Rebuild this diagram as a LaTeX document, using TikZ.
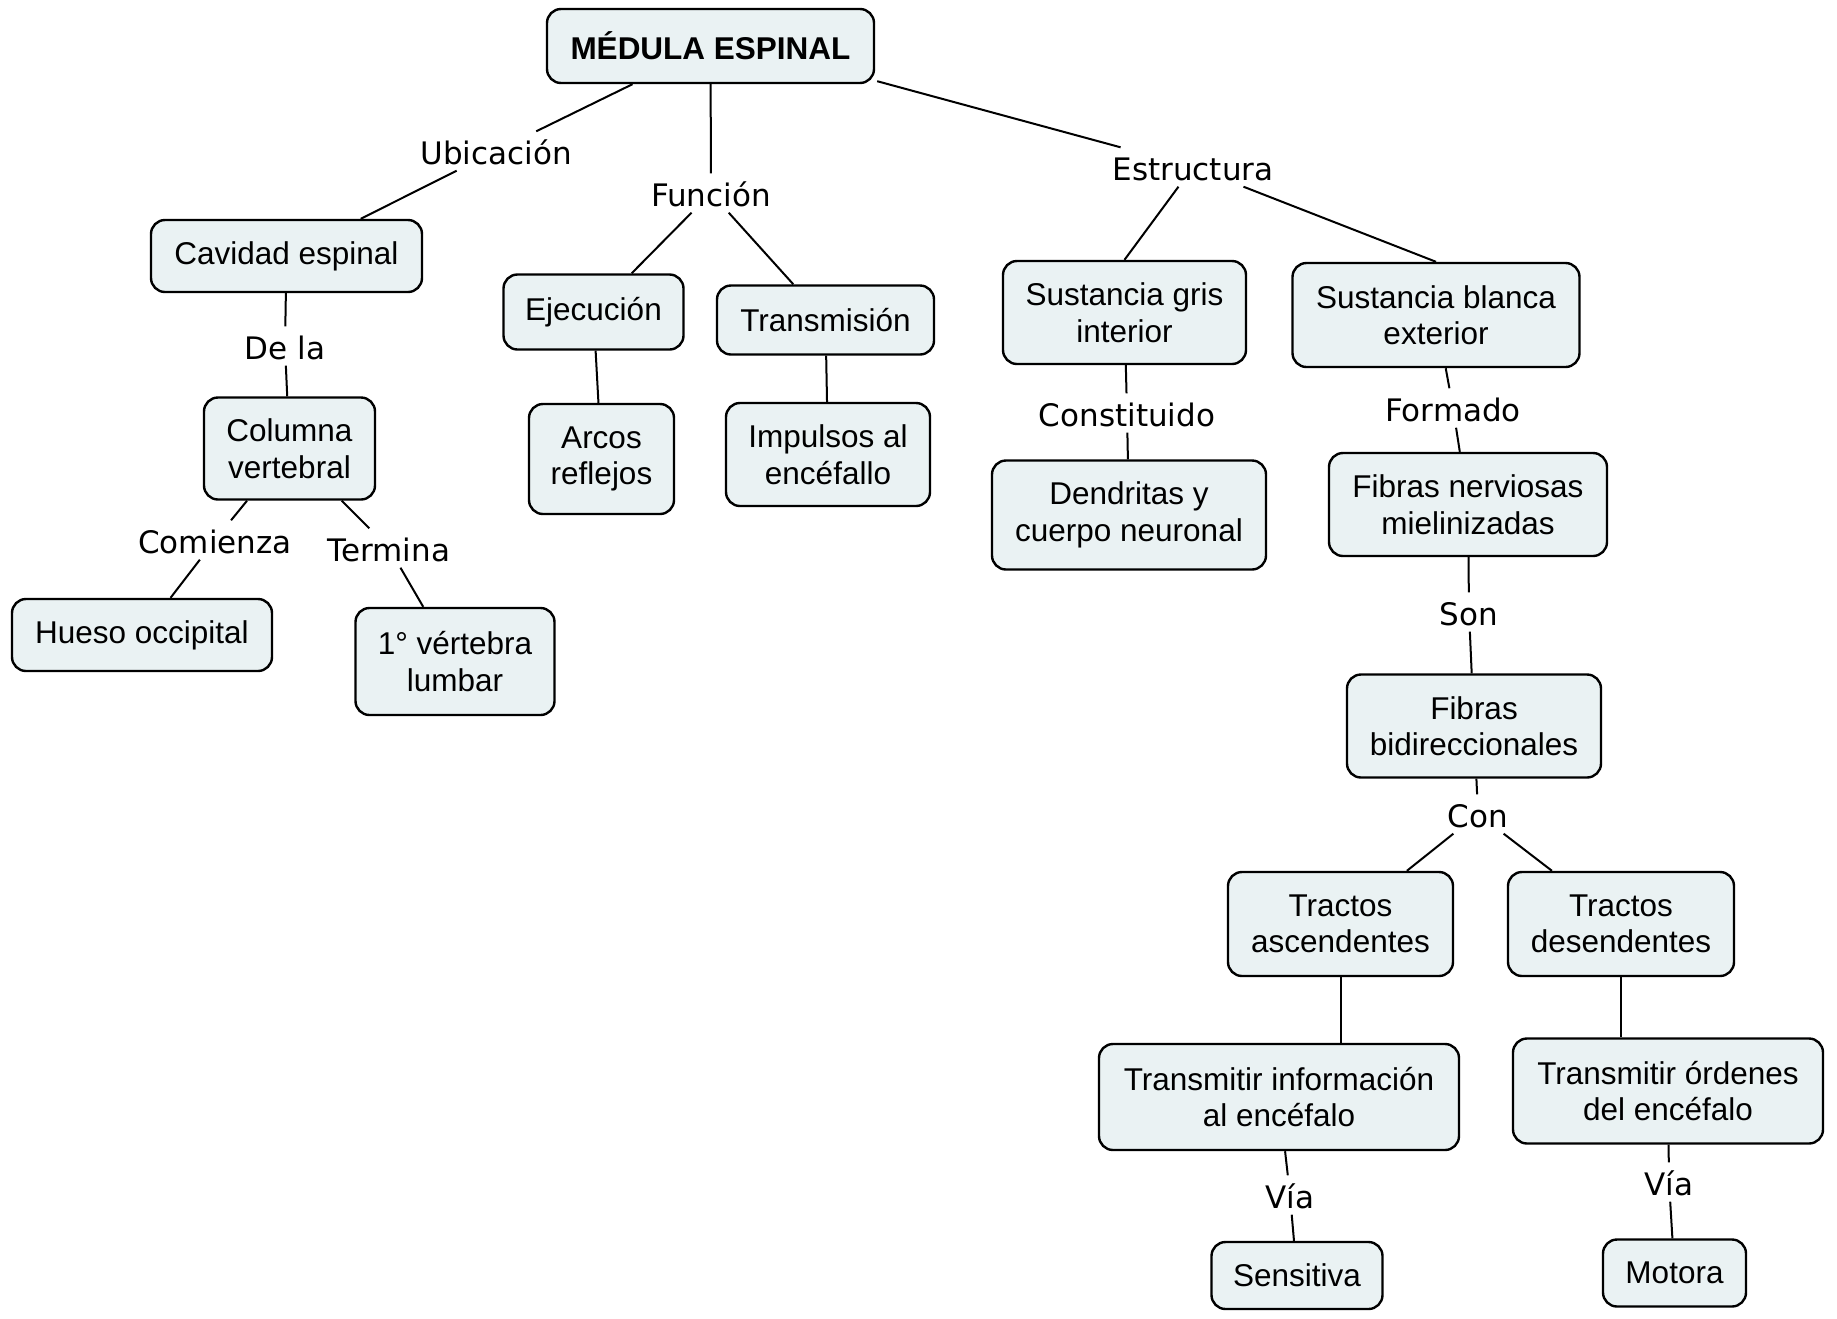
\documentclass[tikz,border=0pt]{standalone}
\usepackage{fontspec}
\setmainfont{Liberation Sans}
\newfontfamily\labelfont{DejaVu Sans}
\definecolor{boxfill}{RGB}{234,242,243}
\begin{document}
\begin{tikzpicture}[x=1pt,y=-1pt,
  concept/.style={draw=black, line width=2.4pt, fill=boxfill, rounded corners=14pt,
    inner sep=0pt, align=center, font=\fontsize{31.5}{36.5}\selectfont},
  lnk/.style={inner xsep=3pt, inner ysep=0pt, text height=33pt, text depth=6pt,
    font=\labelfont\fontsize{31}{36}\selectfont},
  conn/.style={line width=2pt}]
\fill[white] (0,0) rectangle (1837,1318);
\useasboundingbox (0,0) rectangle (1837,1318);

% concepts
\node[concept, minimum width=327pt, minimum height=74pt] (medula) at (710.5,46) {\bfseries MÉDULA ESPINAL};
\node[concept, minimum width=271pt, minimum height=72pt] (cavidad) at (286.5,256) {Cavidad espinal};
\node[concept, minimum width=171pt, minimum height=102pt] (columna) at (289.5,448.5) {Columna\\vertebral};
\node[concept, minimum width=260pt, minimum height=72pt] (hueso) at (142,635) {Hueso occipital};
\node[concept, minimum width=199pt, minimum height=107pt] (vertebra) at (455,661.5) {1° vértebra\\lumbar};
\node[concept, minimum width=180pt, minimum height=75pt] (ejec) at (593.5,312) {Ejecución};
\node[concept, minimum width=217pt, minimum height=69pt] (transm) at (825.5,320) {Transmisión};
\node[concept, minimum width=145pt, minimum height=110pt] (arcos) at (601.5,459) {Arcos\\reflejos};
\node[concept, minimum width=204pt, minimum height=103pt] (impulsos) at (828,454.5) {Impulsos al\\encéfallo};
\node[concept, minimum width=243pt, minimum height=103pt] (sgris) at (1124.5,312.5) {Sustancia gris\\interior};
\node[concept, minimum width=287pt, minimum height=104pt] (sblanca) at (1436,315) {Sustancia blanca\\exterior};
\node[concept, minimum width=274pt, minimum height=109pt] (dendr) at (1129,515) {Dendritas y\\cuerpo neuronal};
\node[concept, minimum width=278pt, minimum height=103pt] (fibner) at (1468,504.5) {Fibras nerviosas\\mielinizadas};
\node[concept, minimum width=254pt, minimum height=103pt] (fibbi) at (1474,726) {Fibras\\bidireccionales};
\node[concept, minimum width=225pt, minimum height=104pt] (tasc) at (1340.5,924) {Tractos\\ascendentes};
\node[concept, minimum width=226pt, minimum height=104pt] (tdes) at (1621,924) {Tractos\\desendentes};
\node[concept, minimum width=360pt, minimum height=106pt] (tinfo) at (1279,1097) {Transmitir información\\al encéfalo};
\node[concept, minimum width=310pt, minimum height=105pt] (tord) at (1668,1091) {Transmitir órdenes\\del encéfalo};
\node[concept, minimum width=171pt, minimum height=67pt] (sens) at (1297,1275.5) {Sensitiva};
\node[concept, minimum width=143pt, minimum height=67pt] (motora) at (1674.5,1273) {Motora};

% linking phrases
\node[lnk] (lubic) at (496,151) {Ubicación};
\node[lnk] (lfunc) at (711,193) {Función};
\node[lnk] (lestr) at (1193,167) {Estructura};
\node[lnk] (ldela) at (285,346) {De la};
\node[lnk] (lcom) at (215,540) {Comienza};
\node[lnk] (lter) at (389,548) {Termina};
\node[lnk] (lcons) at (1127,413) {Constituido};
\node[lnk] (lform) at (1453,408) {Formado};
\node[lnk] (lson) at (1469,612) {Son};
\node[lnk] (lcon) at (1478,814) {Con};
\node[lnk] (lvia1) at (1290,1195) {Vía};
\node[lnk] (lvia2) at (1669,1182) {Vía};

% connectors
\draw[conn] (medula) -- (lubic);
\draw[conn] (lubic) -- (cavidad);
\draw[conn] (medula) -- (lfunc);
\draw[conn] (lfunc) -- (ejec);
\draw[conn] (lfunc) -- (transm);
\draw[conn] ([xshift=2pt,yshift=3pt]medula.south east) -- (lestr);
\draw[conn] (lestr) -- (sgris.north);
\draw[conn] (lestr) -- (sblanca.north);
\draw[conn] (cavidad) -- (ldela);
\draw[conn] (ldela) -- (columna);
\draw[conn] (columna) -- (lcom);
\draw[conn] (lcom) -- (hueso);
\draw[conn] (columna) -- (lter);
\draw[conn] (lter) -- (vertebra);
\draw[conn] (ejec) -- (arcos);
\draw[conn] (transm) -- (impulsos);
\draw[conn] (sgris) -- (lcons);
\draw[conn] (lcons) -- (dendr);
\draw[conn] (sblanca) -- (lform);
\draw[conn] (lform) -- (fibner);
\draw[conn] (fibner) -- (lson);
\draw[conn] (lson) -- (fibbi);
\draw[conn] (fibbi) -- (lcon);
\draw[conn] (lcon) -- (tasc);
\draw[conn] (lcon) -- (tdes);
\draw[conn] (tasc.south) -- (tasc.south |- tinfo.north);
\draw[conn] (tdes.south) -- (tdes.south |- tord.north);
\draw[conn] (tinfo) -- (lvia1);
\draw[conn] (lvia1) -- (sens);
\draw[conn] (tord) -- (lvia2);
\draw[conn] (lvia2) -- (motora);
\end{tikzpicture}
\end{document}
